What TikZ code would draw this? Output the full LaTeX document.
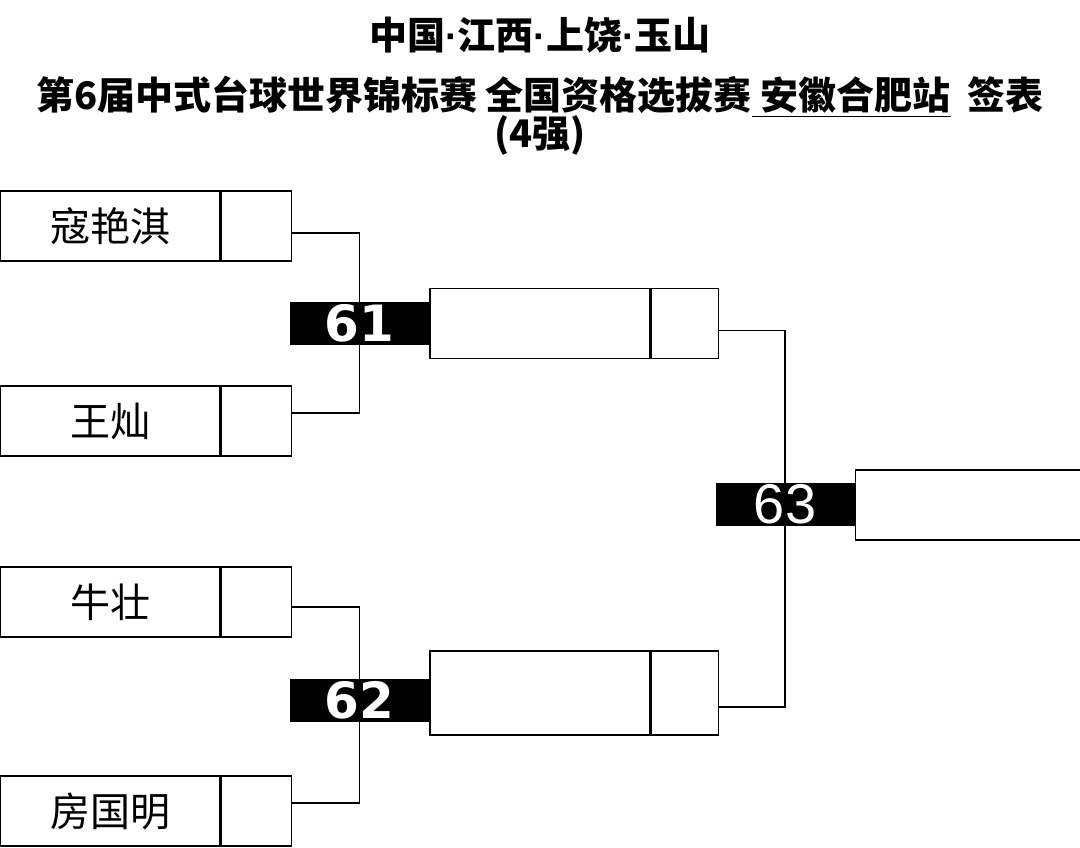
\documentclass[tikz,border=0pt]{standalone}
\usepackage{fontspec}
\newfontfamily\cjk{Noto Sans CJK SC}
\newfontfamily\numfont{DejaVu Sans}
\newfontfamily\arialfont{Liberation Sans}
\usetikzlibrary{positioning}

\newcommand{\tdot}{{\arialfont\bfseries ·}}

\tikzset{
  titletext/.style={font=\cjk\bfseries\fontsize{19}{19}\selectfont, inner sep=0pt},
  namebox/.style={draw, line width=0.7pt, rectangle, minimum width=110pt, minimum height=35pt, inner sep=0pt, font=\cjk\fontsize{20}{20}\selectfont},
  scorebox/.style={draw, line width=0.7pt, rectangle, minimum width=35pt, minimum height=35pt, inner sep=0pt},
  badge/.style={fill=black, text=white, rectangle, minimum width=69.5pt, minimum height=21.5pt, inner sep=0pt},
  link/.style={line width=0.7pt}
}

\begin{document}
\begin{tikzpicture}[x=0.5pt, y=-0.5pt, node distance=0pt]
        \useasboundingbox (0,0) rectangle (1080,847);

        % title
        \node[titletext] (title1) at (540,35) {中国\tdot 江西\tdot 上饶\tdot 玉山};
        \node[titletext] (title2) at (540,97) {第6届中式台球世界锦标赛 全国资格选拔赛\underline{\ 安徽合肥站}\ \ 签表};
        \node[titletext] (title3) at (540,135) {(4强)};

        % first round
        \node[namebox] (p1) at (110,226) {寇艳淇};
        \node[scorebox, right=of p1] (s1) {};
        \node[namebox] (p2) at (110,421) {王灿};
        \node[scorebox, right=of p2] (s2) {};
        \node[namebox] (p3) at (110,602) {牛壮};
        \node[scorebox, right=of p3] (s3) {};
        \node[namebox] (p4) at (110,811) {房国明};
        \node[scorebox, right=of p4] (s4) {};

        % match numbers
        \node[badge, font=\numfont\bfseries\fontsize{25}{25}\selectfont] (m61) at (359.5,323.5) {61};
        \node[badge, font=\numfont\bfseries\fontsize{25}{25}\selectfont] (m62) at (359.5,700) {62};
        \node[badge, font=\arialfont\fontsize{28}{28}\selectfont] (m63) at (785,504.5) {63};

        % second round
        \node[namebox, right=of m61.east, anchor=west] (w1) {};
        \node[scorebox, minimum width=33.5pt, right=of w1] (ws1) {};
        \node[namebox, minimum height=42pt, anchor=west] (w2) at (m62.east |- 0,693) {};
        \node[scorebox, minimum width=33.5pt, minimum height=42pt, right=of w2] (ws2) {};

        % final
        \node[namebox, minimum width=113pt, anchor=west] (champ) at (m63.east |- 0,505) {};

        \draw[link] ([yshift=-3.5pt]s1.east) -| (m61.center) |- ([yshift=4pt]s2.east);
        \draw[link] ([yshift=-2.5pt]s3.east) -| (m62.center) |- ([yshift=4pt]s4.east);
        \draw[link] ([yshift=-3.5pt]ws1.east) -| (m63.center) |- ([yshift=-7pt]ws2.east);
    \end{tikzpicture}
\end{document}
